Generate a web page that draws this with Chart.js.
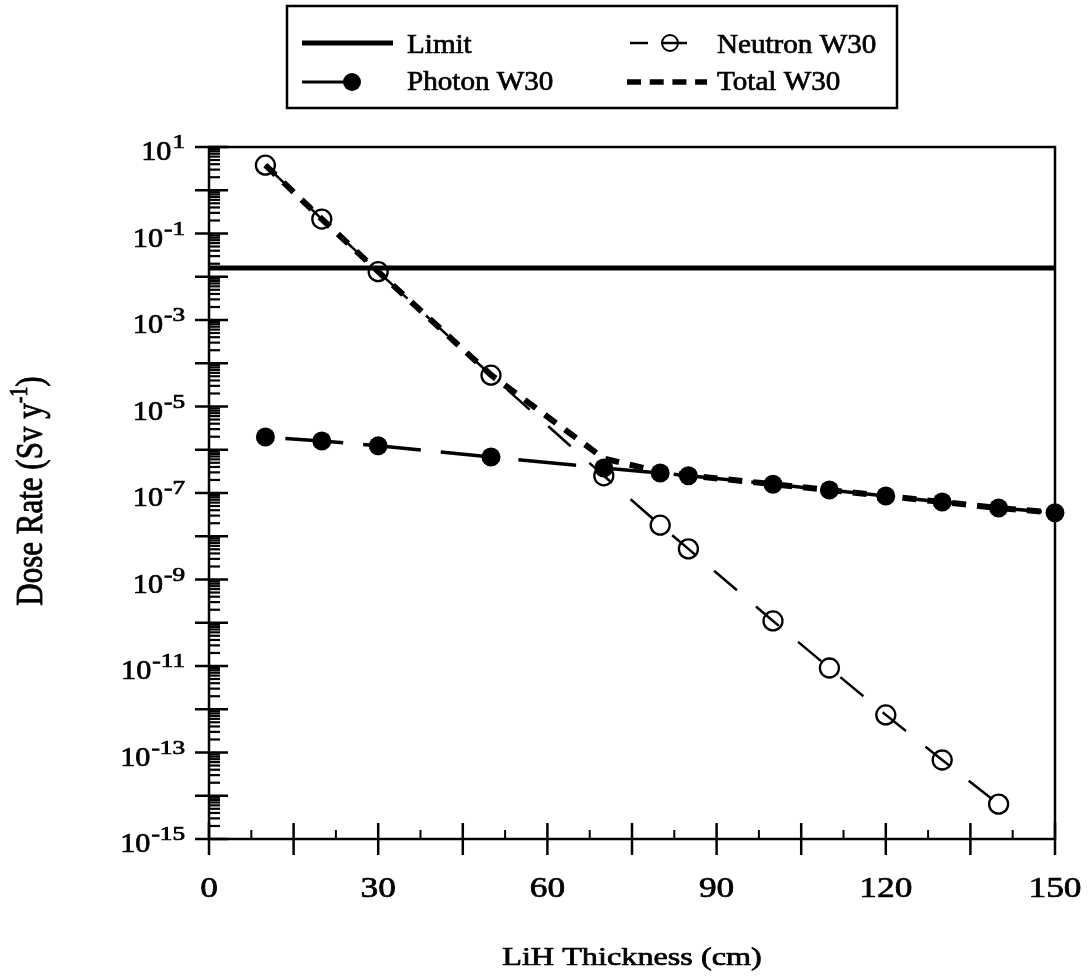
<!DOCTYPE html>
<html>
<head>
<meta charset="utf-8">
<title>Dose rate vs LiH thickness</title>
<script src="https://cdn.jsdelivr.net/npm/chart.js@4.4.1/dist/chart.umd.min.js"></script>
<style>
  html, body { margin: 0; padding: 0; background: #fff; }
  #wrap { width: 1091px; height: 977px; }
</style>
</head>
<body>
<div id="wrap"><canvas id="doseChart" width="1091" height="977"></canvas></div>
<script>
// shield thickness (cm) and dose rate (Sv/y) for each component
const neutronThickness = [10, 20, 30, 50, 70, 80, 85, 100, 110, 120, 130, 140];
const neutronDose = [3.8, 0.216, 0.0131, 5.3e-5, 2.5e-7, 1.8e-8, 5.1e-9, 1.1e-10, 9e-12, 7.4e-13, 6.7e-14, 6.4e-15];

const photonThickness = [10, 20, 30, 50, 70, 80, 85, 100, 110, 120, 130, 140, 150];
const photonDose = [1.97e-6, 1.6e-6, 1.23e-6, 6.8e-7, 3.8e-7, 2.9e-7, 2.5e-7, 1.6e-7, 1.17e-7, 8.5e-8, 6.2e-8, 4.5e-8, 3.5e-8];

const totalThickness = [10, 20, 30, 50, 70, 80, 85, 100, 110, 120, 130, 140, 150];
const totalDose = [3.8, 0.216, 0.0131, 5.37e-5, 6.3e-7, 3.08e-7, 2.55e-7, 1.6e-7, 1.17e-7, 8.5e-8, 6.2e-8, 4.5e-8, 3.5e-8];

const limitThickness = [0, 150];
const limitDose = [0.016, 0.016];

// axis ticks
const thicknessMajorTicks = [0, 15, 30, 45, 60, 75, 90, 105, 120, 135, 150];
const thicknessMinorTicks = [7.5, 22.5, 37.5, 52.5, 67.5, 82.5, 97.5, 112.5, 127.5, 142.5];
const thicknessLabels = [0, 30, 60, 90, 120, 150];
const doseDecades = [-15, -14, -13, -12, -11, -10, -9, -8, -7, -6, -5, -4, -3, -2, -1, 0, 1];
const doseLabelExponents = [1, -1, -3, -5, -7, -9, -11, -13, -15];
const minorMantissas = [2, 3, 4, 5, 6, 7, 8, 9];

const SERIF = '"Liberation Serif", "Times New Roman", serif';

function toPoints(xs, ys) {
  return xs.map((x, i) => ({ x: x, y: ys[i] }));
}

// text drawn wider than its nominal size (sx = horizontal stretch),
// with a thin outline so it reads as heavy as the printed labels
function drawText(ctx, str, x, y, size, sx, align) {
  ctx.save();
  ctx.font = size + 'px ' + SERIF;
  ctx.textBaseline = 'alphabetic';
  ctx.textAlign = align || 'left';
  ctx.translate(x, y);
  ctx.scale(sx, 1);
  ctx.lineWidth = 0.7;
  ctx.fillText(str, 0, 0);
  ctx.strokeText(str, 0, 0);
  ctx.restore();
}

function textWidth(ctx, str, size, sx) {
  ctx.save();
  ctx.font = size + 'px ' + SERIF;
  const w = ctx.measureText(str).width * sx;
  ctx.restore();
  return w;
}

function line(ctx, x1, y1, x2, y2) {
  ctx.beginPath();
  ctx.moveTo(x1, y1);
  ctx.lineTo(x2, y2);
  ctx.stroke();
}

// frame, tick marks and axis labels
const axesPlugin = {
  id: 'axesPlugin',
  beforeDatasetsDraw(chart) {
    const ctx = chart.ctx;
    const area = chart.chartArea;
    const xs = chart.scales.x;
    const ys = chart.scales.y;

    ctx.save();
    ctx.strokeStyle = '#000';
    ctx.fillStyle = '#000';
    ctx.lineWidth = 2.5;
    ctx.strokeRect(area.left, area.top, area.right - area.left, area.bottom - area.top);

    // y ticks
    doseDecades.forEach(d => {
      const py = ys.getPixelForValue(Math.pow(10, d));
      ctx.lineWidth = 2.5;
      line(ctx, area.left - 14, py, area.left + 19, py);
      if (d < 1) {
        ctx.lineWidth = 2.2;
        minorMantissas.forEach(m => {
          const my = ys.getPixelForValue(m * Math.pow(10, d));
          line(ctx, area.left, my, area.left + 11, my);
        });
      }
    });

    // x ticks
    ctx.lineWidth = 2.5;
    thicknessMajorTicks.forEach(v => {
      const px = xs.getPixelForValue(v);
      line(ctx, px, area.bottom - 16, px, area.bottom + 16);
    });
    ctx.lineWidth = 2;
    thicknessMinorTicks.forEach(v => {
      const px = xs.getPixelForValue(v);
      line(ctx, px, area.bottom - 9, px, area.bottom);
    });

    // y tick labels: 10 with superscript exponent
    const labelRight = 185;
    doseLabelExponents.forEach(e => {
      const py = ys.getPixelForValue(Math.pow(10, e));
      const expStr = String(e);
      const wExp = textWidth(ctx, expStr, 18, 1.4);
      const wBase = textWidth(ctx, '10', 28, 1.08);
      drawText(ctx, '10', labelRight - wExp - wBase - 1, py + 13, 28, 1.08);
      drawText(ctx, expStr, labelRight - wExp, py + 1, 18, 1.4);
    });

    // x tick labels
    thicknessLabels.forEach(v => {
      drawText(ctx, String(v), xs.getPixelForValue(v), 897, 29, 1.22, 'center');
    });

    // axis titles
    drawText(ctx, 'LiH Thickness (cm)', (area.left + area.right) / 2, 965, 26, 1.24, 'center');

    ctx.save();
    ctx.translate(42, 491);
    ctx.rotate(-Math.PI / 2);
    ctx.scale(1, 1.22);
    ctx.textBaseline = 'alphabetic';
    ctx.textAlign = 'left';
    ctx.lineWidth = 0.7;
    const main = 'Dose Rate (Sv y';
    const sup = '-1';
    ctx.font = '31px ' + SERIF;
    const w1 = ctx.measureText(main).width;
    const w3 = ctx.measureText(')').width;
    ctx.font = '20px ' + SERIF;
    const w2 = ctx.measureText(sup).width;
    let tx = -(w1 + w2 + w3) / 2;
    ctx.font = '31px ' + SERIF;
    ctx.fillText(main, tx, 0);
    ctx.strokeText(main, tx, 0);
    tx += w1;
    ctx.font = '20px ' + SERIF;
    ctx.fillText(sup, tx, -12);
    ctx.strokeText(sup, tx, -12);
    tx += w2;
    ctx.font = '31px ' + SERIF;
    ctx.fillText(')', tx, 0);
    ctx.strokeText(')', tx, 0);
    ctx.restore();

    ctx.restore();
  }
};

// boxed legend above the plot
const legendPlugin = {
  id: 'legendPlugin',
  afterDraw(chart) {
    const ctx = chart.ctx;
    ctx.save();
    ctx.strokeStyle = '#000';
    ctx.fillStyle = '#000';
    ctx.lineWidth = 2.5;
    ctx.strokeRect(287, 6, 610, 102);

    const row1 = 43, row2 = 82;

    // Limit
    ctx.lineWidth = 5;
    line(ctx, 302, row1, 393, row1);
    // Photon W30
    ctx.lineWidth = 3;
    line(ctx, 302, row2, 350, row2);
    ctx.beginPath();
    ctx.arc(352, row2, 9, 0, Math.PI * 2);
    ctx.fill();
    // Neutron W30
    ctx.lineWidth = 2.5;
    line(ctx, 630, row1, 648, row1);
    line(ctx, 663, row1, 687, row1);
    ctx.lineWidth = 2;
    ctx.beginPath();
    ctx.arc(670, row1, 8, 0, Math.PI * 2);
    ctx.stroke();
    // Total W30
    ctx.lineWidth = 5.5;
    ctx.setLineDash([14, 8.7]);
    line(ctx, 627, row2, 707, row2);
    ctx.setLineDash([]);

    drawText(ctx, 'Limit', 407, 53, 28, 1.04);
    drawText(ctx, 'Photon W30', 407, 90, 28, 1.04);
    drawText(ctx, 'Neutron W30', 717, 53, 28, 1.04);
    drawText(ctx, 'Total W30', 717, 90, 28, 1.04);
    ctx.restore();
  }
};

const ctx = document.getElementById('doseChart');

new Chart(ctx, {
  type: 'line',
  data: {
    datasets: [
      {
        label: 'Limit',
        data: toPoints(limitThickness, limitDose),
        borderColor: '#000',
        borderWidth: 5,
        pointRadius: 0,
        clip: false
      },
      {
        label: 'Photon W30',
        data: toPoints(photonThickness, photonDose),
        borderColor: '#000',
        borderWidth: 3.5,
        borderDash: [58, 20],
        borderDashOffset: 58,
        pointRadius: 9.5,
        pointBackgroundColor: '#000',
        pointBorderColor: '#000',
        pointBorderWidth: 0,
        clip: false
      },
      {
        label: 'Neutron W30',
        data: toPoints(neutronThickness, neutronDose),
        borderColor: '#000',
        borderWidth: 2.5,
        borderDash: [30, 25],
        pointRadius: 9.5,
        pointBackgroundColor: 'rgba(0,0,0,0)',
        pointBorderColor: '#000',
        pointBorderWidth: 2.3,
        clip: false
      },
      {
        label: 'Total W30',
        data: toPoints(totalThickness, totalDose),
        borderColor: '#000',
        borderWidth: 6,
        borderDash: [14, 11],
        pointRadius: 0,
        clip: false
      }
    ]
  },
  options: {
    responsive: false,
    animation: false,
    devicePixelRatio: 1,
    layout: {
      padding: { left: 209, right: 36, top: 147, bottom: 138 }
    },
    plugins: {
      legend: { display: false },
      tooltip: { enabled: false }
    },
    scales: {
      x: { type: 'linear', min: 0, max: 150, display: false },
      y: { type: 'logarithmic', min: 1e-15, max: 10, display: false }
    }
  },
  plugins: [axesPlugin, legendPlugin]
});
</script>
</body>
</html>
